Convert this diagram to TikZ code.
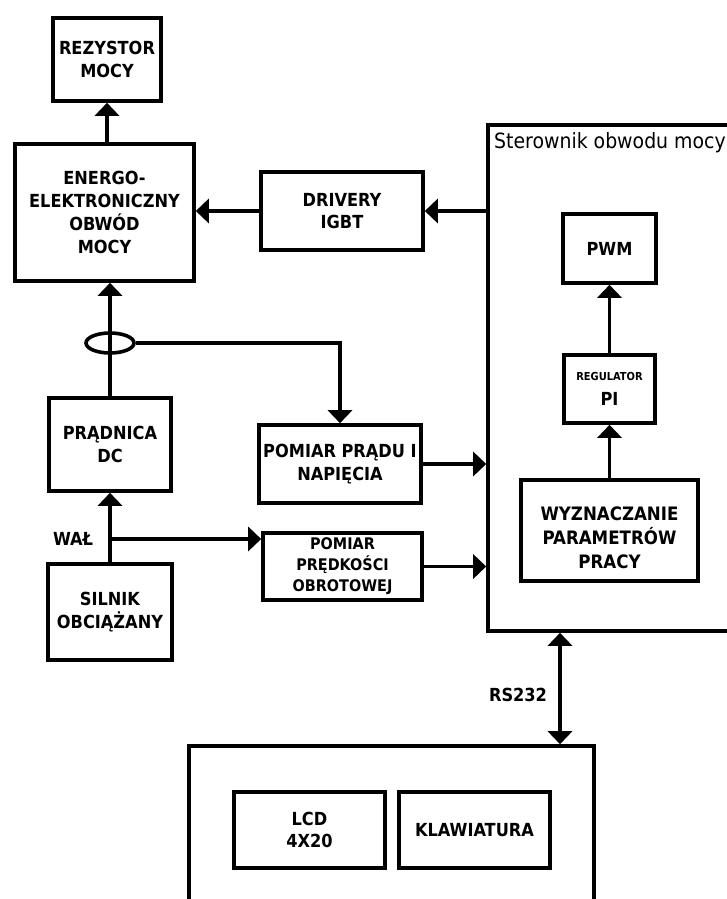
\documentclass[tikz,border=0pt]{standalone}
\usepackage{fontspec}
\setmainfont{DejaVu Sans Condensed}
\usetikzlibrary{arrows.meta,shapes.geometric}
\begin{document}
\begin{tikzpicture}[x=1pt,y=-1pt,
  box/.style={draw,line width=3.6pt,align=center,inner sep=0pt,font=\bfseries\fontsize{18}{22.8}\selectfont},
  tip/.tip={Triangle[length=13pt,width=24pt]},
  conn/.style={line width=3.6pt,-tip},
  lbl/.style={font=\bfseries\fontsize{18}{22.8}\selectfont,inner sep=0pt}]
\useasboundingbox (0,0) rectangle (726,899);
% container boxes
\node[draw,line width=3.6pt,minimum width=272pt,minimum height=506pt,inner sep=0pt] (ster) at (624,378) {};
\node[anchor=west,inner sep=0pt,font=\fontsize{21}{24}\selectfont] (stertxt) at (494,143) {Sterownik obwodu mocy};
\node[draw,line width=3.6pt,minimum width=405pt,minimum height=204pt,inner sep=0pt] (bot) at (391.5,848) {};
% blocks
\node[box,minimum width=108pt,minimum height=83pt] (rez) at (107,59.5) {REZYSTOR\\MOCY};
\node[box,minimum width=179pt,minimum height=137pt] (energo) at (104.5,212.5) {ENERGO-\\ELEKTRONICZNY\\OBWÓD\\MOCY};
\node[box,minimum width=162pt,minimum height=78pt] (drv) at (342,211) {DRIVERY\\IGBT};
\node[box,minimum width=93pt,minimum height=69pt] (pwm) at (609.5,248.5) {PWM};
\node[box,minimum width=91pt,minimum height=68pt] (reg) at (609.5,389) {\fontsize{11}{14}\selectfont REGULATOR\\[2pt]PI};
\node[box,minimum width=177pt,minimum height=101pt] (wyz) at (609.5,530.5) {};
\node[lbl,align=center,font=\bfseries\fontsize{18.5}{24}\selectfont] (wyzt) at (609.5,538) {WYZNACZANIE\\PARAMETRÓW\\PRACY};
\node[box,minimum width=122pt,minimum height=93pt] (prad) at (110,444.5) {PRĄDNICA\\DC};
\node[box,minimum width=162pt,minimum height=78pt] (pp) at (340,464) {POMIAR PRĄDU I\\NAPIĘCIA};
\node[box,minimum width=159pt,minimum height=67pt,font=\bfseries\fontsize{16}{21}\selectfont] (pv) at (342.5,566.5) {POMIAR\\PRĘDKOŚCI\\OBROTOWEJ};
\node[box,minimum width=124pt,minimum height=96pt] (sil) at (110,612) {SILNIK\\OBCIĄŻANY};
\node[box,minimum width=151pt,minimum height=76pt] (lcd) at (309.5,830) {LCD\\4X20};
\node[box,minimum width=151pt,minimum height=76pt] (kla) at (474.5,830) {KLAWIATURA};
% current sensor
\node[draw,ellipse,line width=3.6pt,minimum width=48pt,minimum height=20pt,inner sep=0pt] (el) at (110,343) {};
% connectors
\draw[conn] (energo.north -| rez) -- (rez.south);
\draw[conn] (drv.west) -- (drv.west -| energo.east);
\draw[conn] (ster.west |- drv) -- (drv.east);
\draw[conn] (prad.north) -- (prad.north |- energo.south);
\draw[conn] (el.east) -| (pp.north);
\draw[conn] (pp.east) -- (pp.east -| ster.west);
\draw[conn] (pv.east) -- (pv.east -| ster.west);
\draw[conn] (sil.north) -- (prad.south);
\coordinate (walj) at (110,539);
\draw[conn] (walj) -- (walj -| pv.west);
\node[lbl] (wal) at (73,539) {WAŁ};
\draw[conn] (reg.north) -- (pwm.south);
\draw[conn] (wyz.north) -- (reg.south);
\coordinate (rs) at (560,0);
\draw[line width=3.6pt,tip-tip] (ster.south -| rs) -- (bot.north -| rs);
\node[lbl] (rstxt) at (518,695) {RS232};
\end{tikzpicture}
\end{document}
